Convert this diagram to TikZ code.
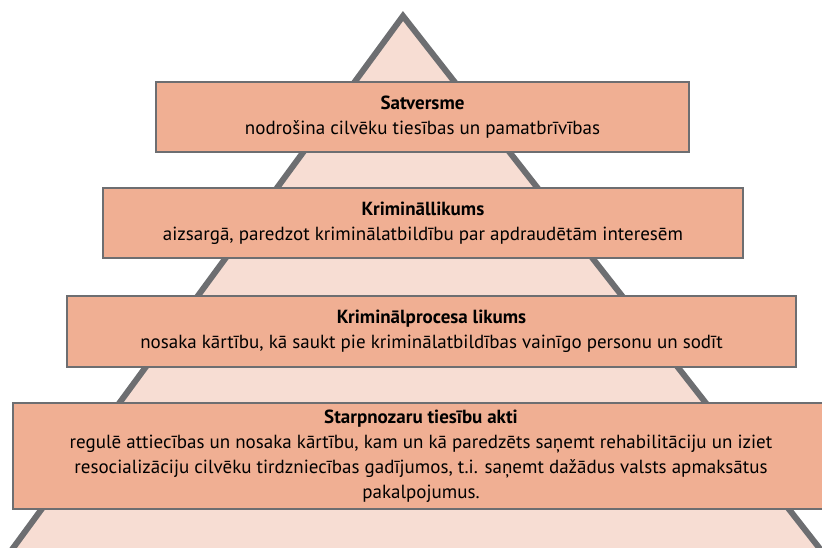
\documentclass[tikz,border=0pt]{standalone}
\usepackage{fontspec}
\setmainfont{PT Sans}
\usepackage{tikz}
\usetikzlibrary{positioning}

\definecolor{edgegray}{HTML}{6D6E71}
\definecolor{pyrfill}{HTML}{F7DDD3}
\definecolor{boxfill}{HTML}{F0AF93}

\tikzset{
  law/.style={rectangle, draw=edgegray, line width=2pt, fill=boxfill,
    align=center, inner sep=0pt, font=\fontsize{19}{25}\selectfont}
}

\begin{document}
\begin{tikzpicture}[x=1pt,y=-1pt]
		\useasboundingbox (0,0) rectangle (822,547);
		\clip (0,0) rectangle (822,547);
		\draw[edgegray, line width=6pt, fill=pyrfill, line join=miter] 
		(-25,600) -- (403,16) -- (860,600); 
		
		\node[law, minimum width=533pt, minimum height=70pt] (satversme) at (422.5,117)
		{\textbf{Satversme}\\ nodrošina cilvēku tiesības un pamatbrīvības};
		\node[law, minimum width=640pt, minimum height=70pt] (kl) at (423,223)
		{\textbf{Krimināllikums}\\ aizsargā, paredzot kriminālatbildību par apdraudētām interesēm};
		\node[law, minimum width=729pt, minimum height=71pt] (kpl) at (431.5,331.5)
		{\textbf{Kriminālprocesa likums}\\ nosaka kārtību, kā saukt pie kriminālatbildības vainīgo personu un sodīt};
		\node[law, minimum width=816pt, minimum height=106pt] (akti) at (421,456)
		{\textbf{Starpnozaru tiesību akti}\\ regulē attiecības un nosaka kārtību, kam un kā paredzēts saņemt rehabilitāciju un iziet\\ resocializāciju cilvēku tirdzniecības gadījumos, t.i. saņemt dažādus valsts apmaksātus\\ pakalpojumus.};
		
		\end{tikzpicture}
\end{document}
